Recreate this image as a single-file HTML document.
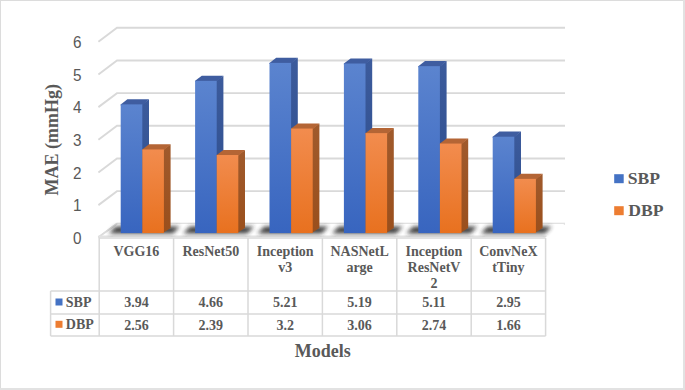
<!DOCTYPE html><html><head><meta charset="utf-8"><style>
html,body{margin:0;padding:0;background:#fff;}
body{width:685px;height:390px;overflow:hidden;position:relative;}
svg{position:absolute;left:0;top:0;}
.s{font-family:"Liberation Serif",serif;font-weight:bold;fill:#595959;}
.a{font-family:"Liberation Sans",sans-serif;fill:#595959;}
</style></head><body>
<svg width="685" height="390" viewBox="0 0 685 390">
<defs>
<linearGradient id="bF" x1="0" y1="0" x2="0" y2="1"><stop offset="0" stop-color="#5b84cf"/><stop offset="1" stop-color="#3865bf"/></linearGradient>
<linearGradient id="oF" x1="0" y1="0" x2="0" y2="1"><stop offset="0" stop-color="#f28c4e"/><stop offset="1" stop-color="#e8711f"/></linearGradient>
<linearGradient id="bS" x1="0" y1="0" x2="0" y2="1"><stop offset="0" stop-color="#3c5b9c"/><stop offset="1" stop-color="#2c4c8c"/></linearGradient>
<linearGradient id="oS" x1="0" y1="0" x2="0" y2="1"><stop offset="0" stop-color="#a05a2c"/><stop offset="1" stop-color="#9a4f1c"/></linearGradient>
<filter id="sh" x="-50%" y="-200%" width="200%" height="500%"><feGaussianBlur stdDeviation="2.0"/></filter>
</defs>
<rect x="0.5" y="0.5" width="683" height="388" fill="none" stroke="#dcdcdc" stroke-width="1"/>
<rect x="683" y="0" width="2" height="390" fill="#e2e2e2"/>
<rect x="0" y="388" width="685" height="2" fill="#e2e2e2"/>
<path d="M98.40 237.80 L117.00 223.80 L565.00 223.80" fill="none" stroke="#d9d9d9" stroke-width="1.9"/>
<path d="M98.40 205.13 L117.00 191.13 L565.00 191.13" fill="none" stroke="#d9d9d9" stroke-width="1.9"/>
<path d="M98.40 172.46 L117.00 158.46 L565.00 158.46" fill="none" stroke="#d9d9d9" stroke-width="1.9"/>
<path d="M98.40 139.79 L117.00 125.79 L565.00 125.79" fill="none" stroke="#d9d9d9" stroke-width="1.9"/>
<path d="M98.40 107.12 L117.00 93.12 L565.00 93.12" fill="none" stroke="#d9d9d9" stroke-width="1.9"/>
<path d="M98.40 74.45 L117.00 60.45 L565.00 60.45" fill="none" stroke="#d9d9d9" stroke-width="1.9"/>
<path d="M98.40 41.78 L117.00 27.78 L565.00 27.78" fill="none" stroke="#d9d9d9" stroke-width="1.9"/>
<text class="a" x="0" y="0" font-size="17" text-anchor="end" transform="translate(81.5 243.90) scale(0.9 1)">0</text>
<text class="a" x="0" y="0" font-size="17" text-anchor="end" transform="translate(81.5 211.23) scale(0.9 1)">1</text>
<text class="a" x="0" y="0" font-size="17" text-anchor="end" transform="translate(81.5 178.56) scale(0.9 1)">2</text>
<text class="a" x="0" y="0" font-size="17" text-anchor="end" transform="translate(81.5 145.89) scale(0.9 1)">3</text>
<text class="a" x="0" y="0" font-size="17" text-anchor="end" transform="translate(81.5 113.22) scale(0.9 1)">4</text>
<text class="a" x="0" y="0" font-size="17" text-anchor="end" transform="translate(81.5 80.55) scale(0.9 1)">5</text>
<text class="a" x="0" y="0" font-size="17" text-anchor="end" transform="translate(81.5 47.88) scale(0.9 1)">6</text>
<path d="M98.40 237.80 L117.00 223.80 L565.00 223.80 L546.40 237.80 Z" fill="#ffffff" stroke="none"/>
<path d="M98.40 237.30 L117.00 223.80" fill="none" stroke="#dcdcdc" stroke-width="2"/>
<path d="M98.40 236.30 L546.40 236.30" fill="none" stroke="#e2e2e2" stroke-width="1.4"/>
<path d="M108.70 233.40 L115.70 226.40 L179.60 226.40 L172.90 233.40 Z" fill="#2a2a2a" opacity="0.9" filter="url(#sh)"/>
<path d="M183.10 233.40 L190.10 226.40 L254.00 226.40 L247.30 233.40 Z" fill="#2a2a2a" opacity="0.9" filter="url(#sh)"/>
<path d="M257.50 233.40 L264.50 226.40 L328.40 226.40 L321.70 233.40 Z" fill="#2a2a2a" opacity="0.9" filter="url(#sh)"/>
<path d="M331.90 233.40 L338.90 226.40 L402.80 226.40 L396.10 233.40 Z" fill="#2a2a2a" opacity="0.9" filter="url(#sh)"/>
<path d="M406.30 233.40 L413.30 226.40 L477.20 226.40 L470.50 233.40 Z" fill="#2a2a2a" opacity="0.9" filter="url(#sh)"/>
<path d="M480.70 233.40 L487.70 226.40 L551.60 226.40 L544.90 233.40 Z" fill="#2a2a2a" opacity="0.9" filter="url(#sh)"/>
<path d="M141.30 104.38 L142.30 104.38 L149.00 99.28 L149.00 228.00 L141.30 233.10 Z" fill="url(#bS)"/><path d="M120.70 105.38 L120.70 104.38 L127.40 99.28 L149.00 99.28 L142.30 105.38 Z" fill="#3f5da0"/><rect x="120.70" y="104.38" width="21.60" height="128.72" fill="url(#bF)"/>
<path d="M162.90 149.46 L163.90 149.46 L170.60 144.36 L170.60 228.00 L162.90 233.10 Z" fill="url(#oS)"/><path d="M142.30 150.46 L142.30 149.46 L149.00 144.36 L170.60 144.36 L163.90 150.46 Z" fill="#b46535"/><rect x="142.30" y="149.46" width="21.60" height="83.64" fill="url(#oF)"/>
<path d="M215.70 80.86 L216.70 80.86 L223.40 75.76 L223.40 228.00 L215.70 233.10 Z" fill="url(#bS)"/><path d="M195.10 81.86 L195.10 80.86 L201.80 75.76 L223.40 75.76 L216.70 81.86 Z" fill="#3f5da0"/><rect x="195.10" y="80.86" width="21.60" height="152.24" fill="url(#bF)"/>
<path d="M237.30 155.02 L238.30 155.02 L245.00 149.92 L245.00 228.00 L237.30 233.10 Z" fill="url(#oS)"/><path d="M216.70 156.02 L216.70 155.02 L223.40 149.92 L245.00 149.92 L238.30 156.02 Z" fill="#b46535"/><rect x="216.70" y="155.02" width="21.60" height="78.08" fill="url(#oF)"/>
<path d="M290.10 62.89 L291.10 62.89 L297.80 57.79 L297.80 228.00 L290.10 233.10 Z" fill="url(#bS)"/><path d="M269.50 63.89 L269.50 62.89 L276.20 57.79 L297.80 57.79 L291.10 63.89 Z" fill="#3f5da0"/><rect x="269.50" y="62.89" width="21.60" height="170.21" fill="url(#bF)"/>
<path d="M311.70 128.56 L312.70 128.56 L319.40 123.46 L319.40 228.00 L311.70 233.10 Z" fill="url(#oS)"/><path d="M291.10 129.56 L291.10 128.56 L297.80 123.46 L319.40 123.46 L312.70 129.56 Z" fill="#b46535"/><rect x="291.10" y="128.56" width="21.60" height="104.54" fill="url(#oF)"/>
<path d="M364.50 63.54 L365.50 63.54 L372.20 58.44 L372.20 228.00 L364.50 233.10 Z" fill="url(#bS)"/><path d="M343.90 64.54 L343.90 63.54 L350.60 58.44 L372.20 58.44 L365.50 64.54 Z" fill="#3f5da0"/><rect x="343.90" y="63.54" width="21.60" height="169.56" fill="url(#bF)"/>
<path d="M386.10 133.13 L387.10 133.13 L393.80 128.03 L393.80 228.00 L386.10 233.10 Z" fill="url(#oS)"/><path d="M365.50 134.13 L365.50 133.13 L372.20 128.03 L393.80 128.03 L387.10 134.13 Z" fill="#b46535"/><rect x="365.50" y="133.13" width="21.60" height="99.97" fill="url(#oF)"/>
<path d="M438.90 66.16 L439.90 66.16 L446.60 61.06 L446.60 228.00 L438.90 233.10 Z" fill="url(#bS)"/><path d="M418.30 67.16 L418.30 66.16 L425.00 61.06 L446.60 61.06 L439.90 67.16 Z" fill="#3f5da0"/><rect x="418.30" y="66.16" width="21.60" height="166.94" fill="url(#bF)"/>
<path d="M460.50 143.58 L461.50 143.58 L468.20 138.48 L468.20 228.00 L460.50 233.10 Z" fill="url(#oS)"/><path d="M439.90 144.58 L439.90 143.58 L446.60 138.48 L468.20 138.48 L461.50 144.58 Z" fill="#b46535"/><rect x="439.90" y="143.58" width="21.60" height="89.52" fill="url(#oF)"/>
<path d="M513.30 136.72 L514.30 136.72 L521.00 131.62 L521.00 228.00 L513.30 233.10 Z" fill="url(#bS)"/><path d="M492.70 137.72 L492.70 136.72 L499.40 131.62 L521.00 131.62 L514.30 137.72 Z" fill="#3f5da0"/><rect x="492.70" y="136.72" width="21.60" height="96.38" fill="url(#bF)"/>
<path d="M534.90 178.87 L535.90 178.87 L542.60 173.77 L542.60 228.00 L534.90 233.10 Z" fill="url(#oS)"/><path d="M514.30 179.87 L514.30 178.87 L521.00 173.77 L542.60 173.77 L535.90 179.87 Z" fill="#b46535"/><rect x="514.30" y="178.87" width="21.60" height="54.23" fill="url(#oF)"/>
<path d="M99.20 237.90 H545.60 M50.60 291.00 H545.60 M50.60 314.00 H545.60 M50.60 336.00 H545.60 M50.60 291.00 V336.00 M99.20 237.90 V336.00 M173.60 237.90 V336.00 M248.00 237.90 V336.00 M322.40 237.90 V336.00 M396.80 237.90 V336.00 M471.20 237.90 V336.00 M545.60 237.90 V336.00" fill="none" stroke="#d9d9d9" stroke-width="1.5"/>
<text class="s" x="136.40" y="255.90" font-size="14" text-anchor="middle">VGG16</text>
<text class="s" x="136.40" y="307.00" font-size="14" text-anchor="middle">3.94</text>
<text class="s" x="136.40" y="329.70" font-size="14" text-anchor="middle">2.56</text>
<text class="s" x="210.80" y="255.90" font-size="14" text-anchor="middle">ResNet50</text>
<text class="s" x="210.80" y="307.00" font-size="14" text-anchor="middle">4.66</text>
<text class="s" x="210.80" y="329.70" font-size="14" text-anchor="middle">2.39</text>
<text class="s" x="285.20" y="255.90" font-size="14" text-anchor="middle">Inception</text>
<text class="s" x="285.20" y="272.10" font-size="14" text-anchor="middle">v3</text>
<text class="s" x="285.20" y="307.00" font-size="14" text-anchor="middle">5.21</text>
<text class="s" x="285.20" y="329.70" font-size="14" text-anchor="middle">3.2</text>
<text class="s" x="359.60" y="255.90" font-size="14" text-anchor="middle">NASNetL</text>
<text class="s" x="359.60" y="272.10" font-size="14" text-anchor="middle">arge</text>
<text class="s" x="359.60" y="307.00" font-size="14" text-anchor="middle">5.19</text>
<text class="s" x="359.60" y="329.70" font-size="14" text-anchor="middle">3.06</text>
<text class="s" x="434.00" y="255.90" font-size="14" text-anchor="middle">Inception</text>
<text class="s" x="434.00" y="272.10" font-size="14" text-anchor="middle">ResNetV</text>
<text class="s" x="434.00" y="288.30" font-size="14" text-anchor="middle">2</text>
<text class="s" x="434.00" y="307.00" font-size="14" text-anchor="middle">5.11</text>
<text class="s" x="434.00" y="329.70" font-size="14" text-anchor="middle">2.74</text>
<text class="s" x="508.40" y="255.90" font-size="14" text-anchor="middle">ConvNeX</text>
<text class="s" x="508.40" y="272.10" font-size="14" text-anchor="middle">tTiny</text>
<text class="s" x="508.40" y="307.00" font-size="14" text-anchor="middle">2.95</text>
<text class="s" x="508.40" y="329.70" font-size="14" text-anchor="middle">1.66</text>
<rect x="55.5" y="298.5" width="7" height="7" fill="#4472c4"/>
<rect x="55.5" y="320.8" width="7" height="7" fill="#ed7d31"/>
<text class="s" x="65.8" y="306.5" font-size="14">SBP</text>
<text class="s" x="65.8" y="329.3" font-size="14">DBP</text>
<text class="s" x="0" y="0" font-size="18" text-anchor="middle" transform="translate(57.8 139.8) rotate(-90)">MAE (mmHg)</text>
<text class="s" x="322.8" y="357" font-size="18" text-anchor="middle">Models</text>
<rect x="614.2" y="174.2" width="9.5" height="9" fill="#4472c4"/>
<rect x="614.2" y="206.2" width="9.5" height="9" fill="#ed7d31"/>
<text class="s" x="627.7" y="184.3" font-size="17.6">SBP</text>
<text class="s" x="628.3" y="215.7" font-size="17.6">DBP</text>
</svg></body></html>
